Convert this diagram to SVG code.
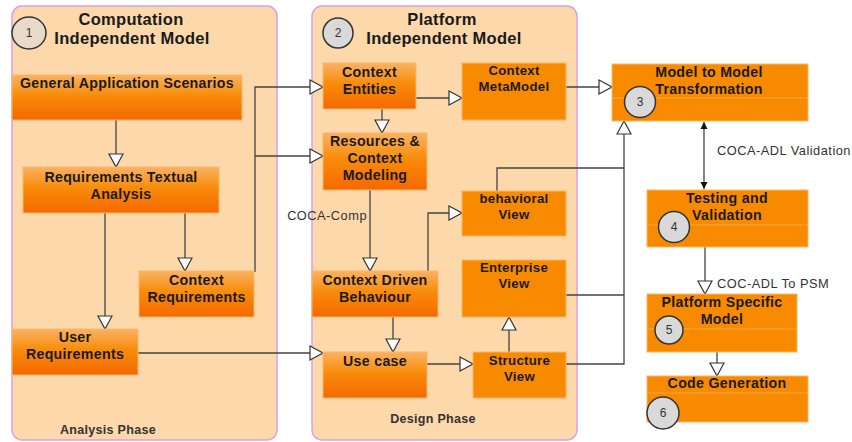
<svg xmlns="http://www.w3.org/2000/svg" width="852" height="442" viewBox="0 0 852 442">
<style>
.panel{fill:#fcd8aa;stroke:#d9a0e8;stroke-width:1.5}
.gbox{fill:url(#grad);stroke:#fbb56a;stroke-width:1}
.sbox{fill:#f88a00;stroke:#fbb56a;stroke-width:1}
.div{stroke:#faa64a;stroke-width:1}
.title{font-family:"Liberation Sans",Arial,sans-serif;font-weight:bold;font-size:16.5px;letter-spacing:0.3px;fill:#1a1a1a;text-anchor:middle}
.t{font-family:"Liberation Sans",Arial,sans-serif;font-weight:bold;font-size:14.2px;letter-spacing:0.3px;fill:#1a1a1a;text-anchor:middle}
.ts{font-family:"Liberation Sans",Arial,sans-serif;font-weight:bold;font-size:13.2px;letter-spacing:0.3px;fill:#1a1a1a;text-anchor:middle}
.phase{font-family:"Liberation Sans",Arial,sans-serif;font-weight:bold;font-size:12.5px;letter-spacing:0.3px;fill:#333;text-anchor:middle}
.lbl{font-family:"Liberation Sans",Arial,sans-serif;font-size:12.8px;letter-spacing:0.5px;fill:#333}
.num{font-family:"Liberation Sans",Arial,sans-serif;font-size:12px;fill:#333;text-anchor:middle}
.circ{fill:#d9d9d9;stroke:#333;stroke-width:1.5}
.conn path{fill:none;stroke:#444;stroke-width:1.3}
.arr{marker-end:url(#tri)}
</style>
<defs>
<linearGradient id="grad" x1="0" y1="0" x2="0" y2="1">
<stop offset="0" stop-color="#fab262"/>
<stop offset="0.45" stop-color="#f88c0a"/>
<stop offset="1" stop-color="#f56800"/>
</linearGradient>
<marker id="tri" markerUnits="userSpaceOnUse" markerWidth="16" markerHeight="16" viewBox="-1 -1 16 16" refX="13" refY="7" orient="auto" overflow="visible">
<path d="M0,0 L13,7 L0,14 Z" fill="#fff" stroke="#333" stroke-width="1.2"/>
</marker>
<marker id="sm" markerUnits="userSpaceOnUse" markerWidth="8" markerHeight="8" viewBox="0 0 8 8" refX="7" refY="4" orient="auto-start-reverse">
<path d="M0,0.5 L7,4 L0,7.5 Z" fill="#111"/>
</marker>
</defs>

<g id="panel-cim">
<rect class="panel" x="12" y="6" width="265" height="434" rx="10"/>
<ellipse cx="29" cy="33" rx="17" ry="16" fill="#e8dac8" stroke="#333" stroke-width="1.5"/>
<text class="num" x="29" y="37">1</text>
<text class="title" x="131" y="25">Computation</text>
<text class="title" x="132" y="44">Independent Model</text>
<text class="phase" x="108" y="434">Analysis Phase</text>
</g>

<g id="panel-pim">
<rect class="panel" x="312" y="6" width="265" height="434" rx="10"/>
<circle class="circ" cx="338" cy="33" r="15"/>
<text class="num" x="338" y="37">2</text>
<text class="title" x="442" y="25">Platform</text>
<text class="title" x="444" y="44">Independent Model</text>
<text class="phase" x="433" y="423">Design Phase</text>
</g>

<g class="conn" id="connectors">
<path class="arr" d="M116,120 V167"/>
<path class="arr" d="M185,213 V271"/>
<path class="arr" d="M105,213 V329"/>
<path class="arr" d="M255,272 V87 H323"/>
<path class="arr" d="M255,156 H323"/>
<path class="arr" d="M138,353 H323"/>
<path class="arr" d="M416,98 H462"/>
<path class="arr" d="M382,109 V133"/>
<path class="arr" d="M370,190 V271"/>
<path class="arr" d="M428,271 V213 H462"/>
<path class="arr" d="M393,317 V352"/>
<path class="arr" d="M427,364 H473"/>
<path class="arr" d="M509,352 V317"/>
<path d="M497,191 V168 H624"/>
<path d="M566,295 H624"/>
<path class="arr" d="M566,364 H624 V121"/>
<path class="arr" d="M566,87 H612"/>
<path d="M704,122 V189" marker-start="url(#sm)" marker-end="url(#sm)"/>
<path class="arr" d="M705,247 V294"/>
<path class="arr" d="M717,352 V376"/>
<text class="lbl" x="367" y="220" text-anchor="end">COCA-Comp</text>
<text class="lbl" x="717" y="155">COCA-ADL Validation</text>
<text class="lbl" x="717" y="288">COC-ADL To PSM</text>
</g>

<g id="general-application-scenarios">
<rect class="gbox" x="12" y="75" width="230" height="45"/>
<text class="t" x="127" y="88">General Application Scenarios</text>
</g>
<g id="requirements-textual-analysis">
<rect class="gbox" x="23" y="167" width="196" height="46"/>
<text class="t" x="121" y="182">Requirements Textual</text>
<text class="t" x="121" y="199">Analysis</text>
</g>
<g id="context-requirements">
<rect class="gbox" x="139" y="271" width="115" height="46"/>
<text class="t" x="196.5" y="285">Context</text>
<text class="t" x="196.5" y="302">Requirements</text>
</g>
<g id="user-requirements">
<rect class="gbox" x="12" y="329" width="126" height="46"/>
<text class="t" x="75" y="342">User</text>
<text class="t" x="75" y="359">Requirements</text>
</g>

<g id="context-entities">
<rect class="gbox" x="323" y="63" width="93" height="46"/>
<text class="t" x="369.5" y="77">Context</text>
<text class="t" x="369.5" y="94">Entities</text>
</g>
<g id="context-metamodel">
<rect class="sbox" x="462" y="63" width="104" height="57"/>
<text class="ts" x="514" y="75">Context</text>
<text class="ts" x="514" y="91">MetaModel</text>
</g>
<g id="resources-context-modeling">
<rect class="gbox" x="323" y="133" width="104" height="57"/>
<text class="t" x="375" y="146">Resources &amp;</text>
<text class="t" x="375" y="163">Context</text>
<text class="t" x="375" y="180">Modeling</text>
</g>
<g id="behavioral-view">
<rect class="sbox" x="462" y="191" width="104" height="45"/>
<text class="ts" x="514" y="203">behavioral</text>
<text class="ts" x="514" y="219">View</text>
</g>
<g id="context-driven-behaviour">
<rect class="gbox" x="312" y="271" width="126" height="46"/>
<text class="t" x="375" y="285">Context Driven</text>
<text class="t" x="375" y="302">Behaviour</text>
</g>
<g id="enterprise-view">
<rect class="sbox" x="462" y="260" width="104" height="57"/>
<text class="ts" x="514" y="272">Enterprise</text>
<text class="ts" x="514" y="288">View</text>
</g>
<g id="use-case">
<rect class="gbox" x="323" y="352" width="104" height="46"/>
<text class="t" x="375" y="366">Use case</text>
</g>
<g id="structure-view">
<rect class="sbox" x="473" y="352" width="93" height="46"/>
<text class="ts" x="519.5" y="365">Structure</text>
<text class="ts" x="519.5" y="381">View</text>
</g>

<g id="model-to-model">
<rect class="sbox" x="612" y="64" width="196" height="57"/>
<line class="div" x1="612.5" y1="98" x2="807.5" y2="98"/>
<text class="t" x="709" y="77">Model to Model</text>
<text class="t" x="709" y="94">Transformation</text>
<circle class="circ" cx="640" cy="102" r="15.5"/>
<text class="num" x="640" y="106">3</text>
</g>
<g id="testing-validation">
<rect class="sbox" x="647" y="190" width="161" height="57"/>
<line class="div" x1="647.5" y1="225" x2="807.5" y2="225"/>
<text class="t" x="727" y="203">Testing and</text>
<text class="t" x="727" y="220">Validation</text>
<circle class="circ" cx="674" cy="227" r="15.5"/>
<text class="num" x="674" y="231">4</text>
</g>
<g id="platform-specific-model">
<rect class="sbox" x="647" y="294" width="150" height="58"/>
<line class="div" x1="647.5" y1="329" x2="796.5" y2="329"/>
<text class="t" x="722" y="307">Platform Specific</text>
<text class="t" x="722" y="324">Model</text>
<circle class="circ" cx="669" cy="330" r="14"/>
<text class="num" x="669" y="334">5</text>
</g>
<g id="code-generation">
<rect class="sbox" x="647" y="376" width="161" height="46"/>
<line class="div" x1="647.5" y1="393" x2="807.5" y2="393"/>
<text class="t" x="727" y="388">Code Generation</text>
<circle class="circ" cx="663" cy="413" r="16"/>
<text class="num" x="663" y="417">6</text>
</g>
</svg>
